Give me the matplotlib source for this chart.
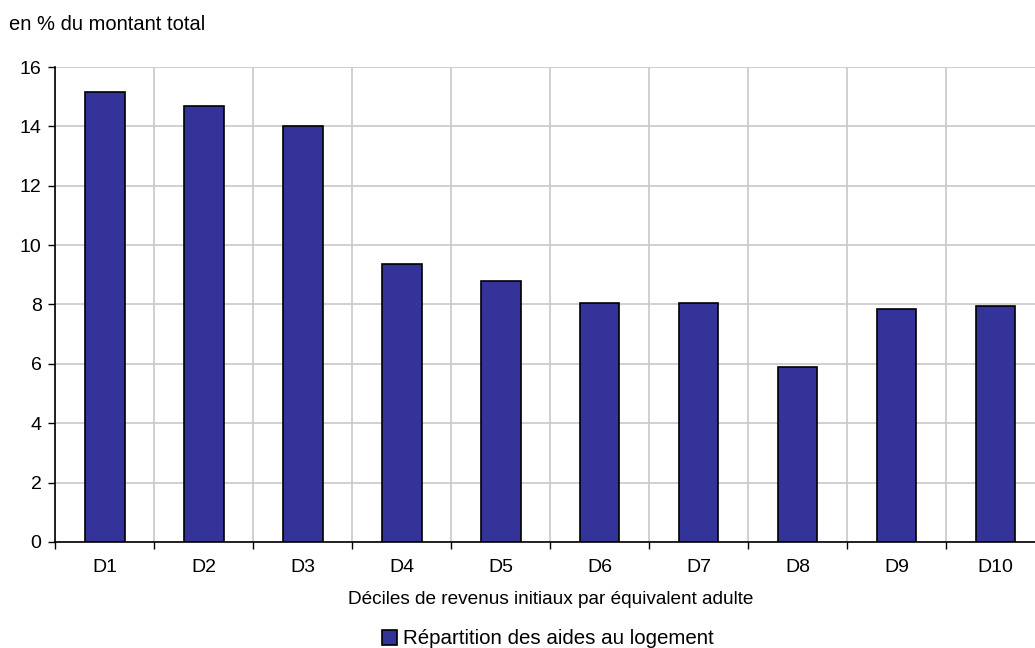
import matplotlib.pyplot as plt
import numpy as np

plt.rcParams['font.family'] = ['Liberation Sans', 'DejaVu Sans']

deciles = ['D1', 'D2', 'D3', 'D4', 'D5', 'D6', 'D7', 'D8', 'D9', 'D10']
parts = [15.15, 14.7, 14.02, 9.37, 8.78, 8.05, 8.05, 5.88, 7.85, 7.96]
serie = 'Répartition des aides au logement'

fig = plt.figure(figsize=(10.35, 6.48), dpi=100)
ax = fig.add_axes([0.0536, 0.1636, 0.956, 0.733])

x = np.arange(len(deciles))
ax.bar(x, parts, width=0.4, color='#333399', edgecolor='black', linewidth=1.2,
       label=serie, zorder=3)

ax.set_xlim(-0.5, len(deciles) - 0.5)
ax.set_ylim(0, 16)
ax.set_yticks(np.arange(0, 17, 2))
ax.set_xticks(x)
ax.set_xticklabels(deciles)
ax.set_xticks(np.arange(-0.5, len(deciles)), minor=True)
ax.tick_params(axis='x', which='major', length=0, pad=12, labelsize=14)
ax.tick_params(axis='x', which='minor', length=5, direction='out', width=1)
ax.tick_params(axis='y', length=5, direction='out', width=1, labelsize=14, pad=5)

ax.grid(axis='y', color='#c8c8c8', linewidth=1.2, zorder=0)
ax.grid(axis='x', which='minor', color='#c8c8c8', linewidth=1.2, zorder=0)
for s in ['top', 'right']:
    ax.spines[s].set_visible(False)
for s in ['left', 'bottom']:
    ax.spines[s].set_linewidth(1.2)

ax.set_xlabel('Déciles de revenus initiaux par équivalent adulte', fontsize=13.7, labelpad=11)
fig.text(9 / 1035, 1 - 25 / 648, 'en % du montant total', fontsize=14.5, va='center', ha='left')

fig.legend(loc='center', bbox_to_anchor=(548 / 1035, 1 - 639 / 648), frameon=False,
           fontsize=14.8, handlelength=0.75, handleheight=0.75, handletextpad=0.3)

plt.savefig('out.png', dpi=100)
